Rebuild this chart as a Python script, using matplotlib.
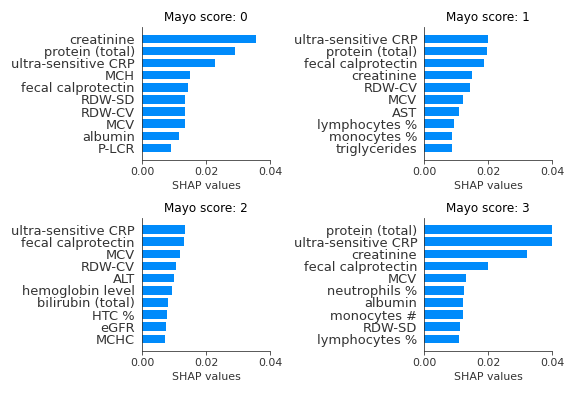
import matplotlib
matplotlib.use("Agg")
import matplotlib.pyplot as plt

# mean |SHAP| per feature, one list per Mayo score class (top feature first)
features_0 = ["creatinine", "protein (total)", "ultra-sensitive CRP", "MCH",
              "fecal calprotectin", "RDW-SD", "RDW-CV", "MCV", "albumin", "P-LCR"]
values_0 = [0.0356, 0.0290, 0.0228, 0.0149, 0.0143, 0.0136, 0.0134, 0.0134, 0.0115, 0.0090]

features_1 = ["ultra-sensitive CRP", "protein (total)", "fecal calprotectin", "creatinine",
              "RDW-CV", "MCV", "AST", "lymphocytes %", "monocytes %", "triglycerides"]
values_1 = [0.0200, 0.0197, 0.0188, 0.0148, 0.0142, 0.0120, 0.0107, 0.0092, 0.0086, 0.0086]

features_2 = ["ultra-sensitive CRP", "fecal calprotectin", "MCV", "RDW-CV", "ALT",
              "hemoglobin level", "bilirubin (total)", "HTC %", "eGFR", "MCHC"]
values_2 = [0.0134, 0.0131, 0.0118, 0.0105, 0.0099, 0.0093, 0.0080, 0.0077, 0.0074, 0.0071]

features_3 = ["protein (total)", "ultra-sensitive CRP", "creatinine", "fecal calprotectin",
              "MCV", "neutrophils %", "albumin", "monocytes #", "RDW-SD", "lymphocytes %"]
values_3 = [0.0400, 0.0400, 0.0321, 0.0200, 0.0129, 0.0123, 0.0120, 0.0120, 0.0111, 0.0107]

scores = [0, 1, 2, 3]
blue = "#008bfb"
grey = "#333333"

fig = plt.figure(figsize=(8, 5.5), dpi=72)

# axes boxes in figure fractions [left, bottom, width, height]
boxes = [[0.2465, 0.596, 0.2222, 0.335],
         [0.7367, 0.596, 0.2222, 0.335],
         [0.2465, 0.1136, 0.2222, 0.336],
         [0.7367, 0.1136, 0.2222, 0.336]]

panels = [(features_0, values_0), (features_1, values_1),
          (features_2, values_2), (features_3, values_3)]

for box, (feats, vals), score in zip(boxes, panels, scores):
    ax = fig.add_axes(box)
    n = len(feats)
    ypos = list(range(n - 1, -1, -1))
    ax.barh(ypos, vals, height=0.7, color=blue)
    ax.set_yticks(ypos)
    ax.set_yticklabels(feats, fontsize=13, color=grey)
    ax.set_ylim(-1, n - 0.05)
    ax.set_xlim(0, 0.04)
    ax.set_xticks([0, 0.02, 0.04])
    ax.set_xticklabels(["0.00", "0.02", "0.04"])
    ax.tick_params(axis="x", labelsize=11, colors=grey, labelcolor=grey)
    ax.tick_params(axis="y", length=0, pad=7)
    ax.spines["top"].set_visible(False)
    ax.spines["right"].set_visible(False)
    ax.spines["left"].set_color(grey)
    ax.spines["bottom"].set_color(grey)
    ax.set_xlabel("SHAP values", fontsize=11, color=grey)
    ax.set_title("Mayo score: %d" % score, fontsize=12)

fig.savefig("out.png", dpi=72)
